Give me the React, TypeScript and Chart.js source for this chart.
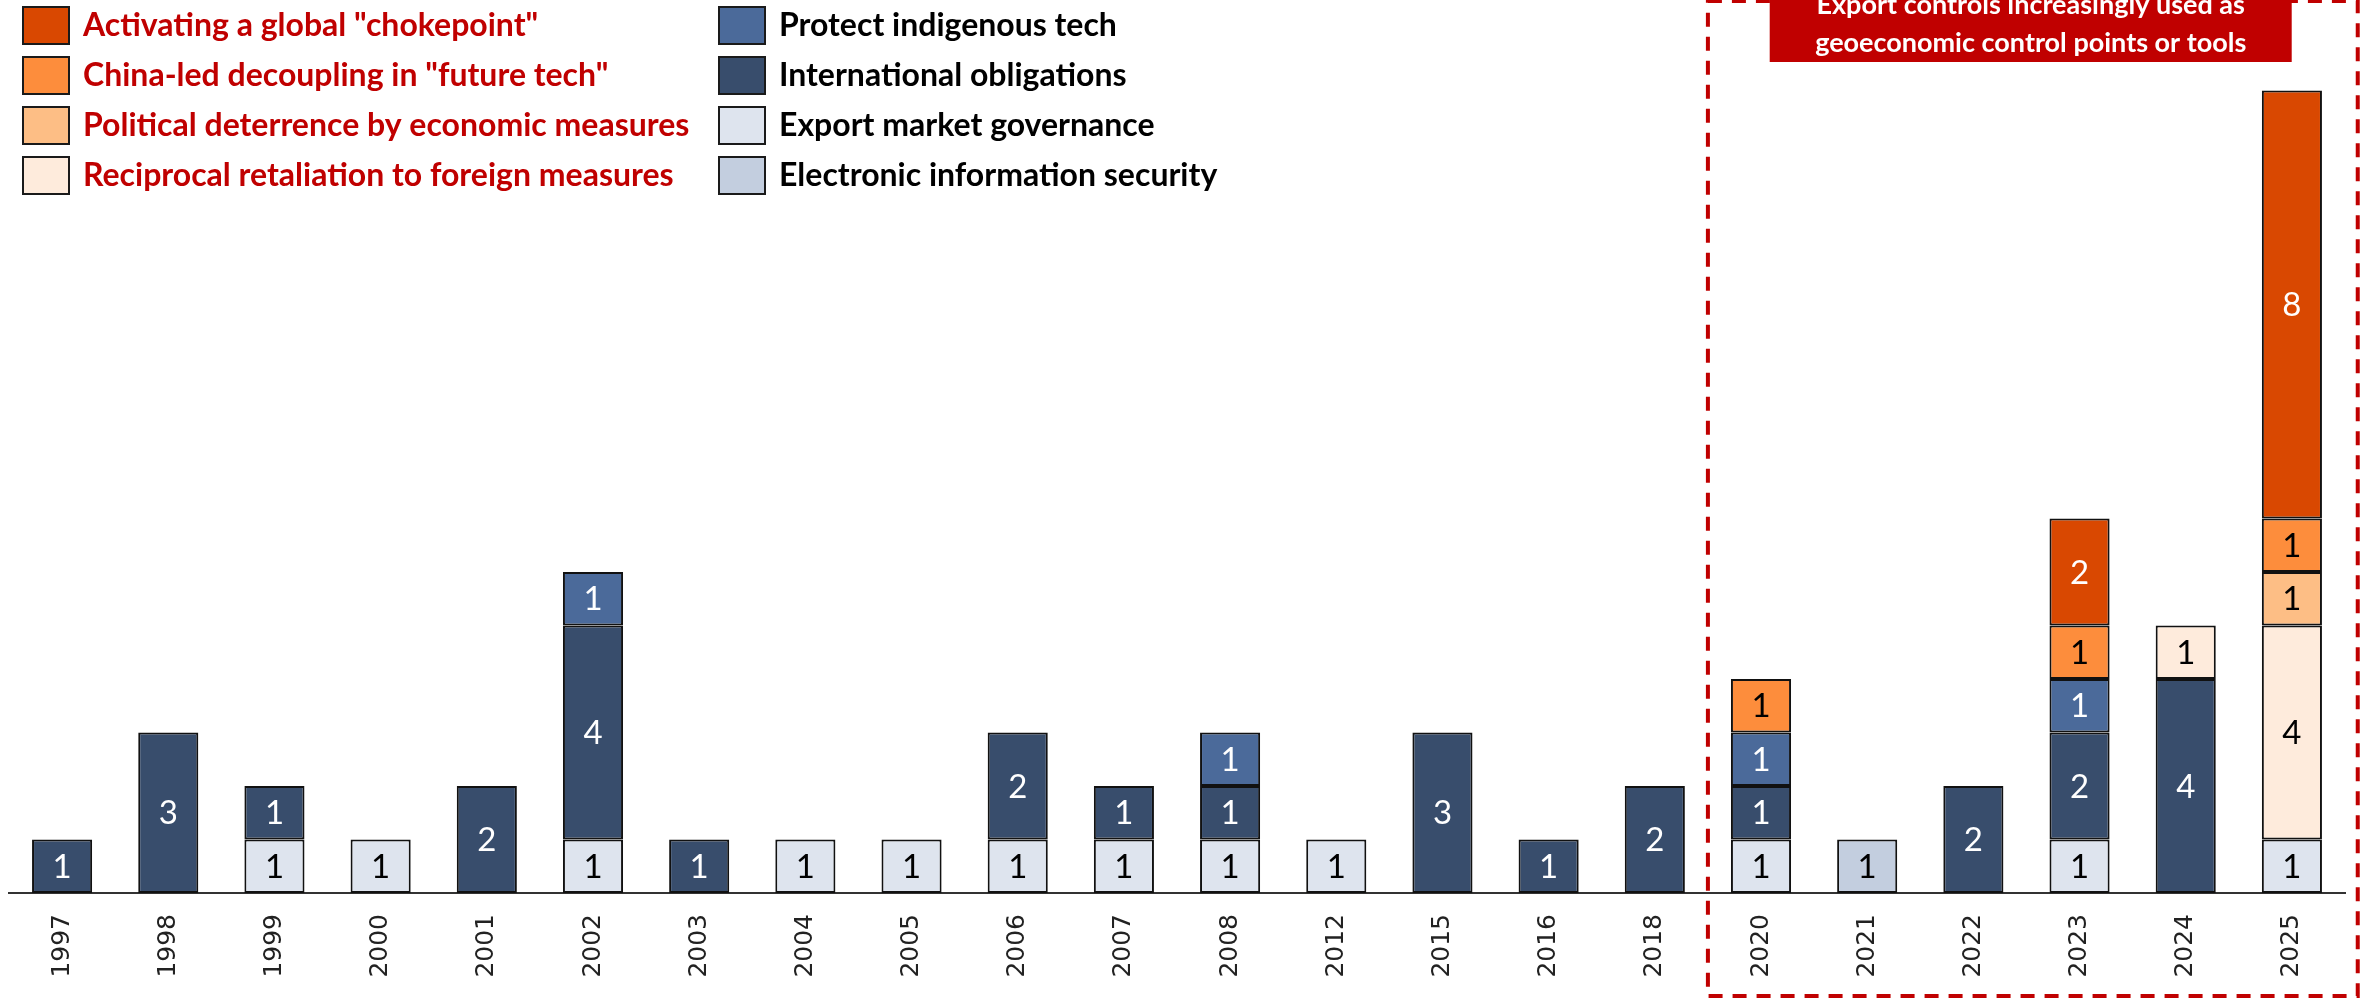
import React, { useEffect, useRef } from "react";
import { Chart, registerables } from "chart.js";

Chart.register(...registerables);

const years = ["1997","1998","1999","2000","2001","2002","2003","2004","2005","2006","2007","2008","2012","2015","2016","2018","2020","2021","2022","2023","2024","2025"];

const exportMarket = [0,0,1,1,0,1,0,1,1,1,1,1,1,0,0,0,1,0,0,1,0,1];
const electronicInfo = [0,0,0,0,0,0,0,0,0,0,0,0,0,0,0,0,0,1,0,0,0,0];
const intlObligations = [1,3,1,0,2,4,1,0,0,2,1,1,0,3,1,2,1,0,2,2,4,0];
const protectTech = [0,0,0,0,0,1,0,0,0,0,0,1,0,0,0,0,1,0,0,1,0,0];
const reciprocal = [0,0,0,0,0,0,0,0,0,0,0,0,0,0,0,0,0,0,0,0,1,4];
const political = [0,0,0,0,0,0,0,0,0,0,0,0,0,0,0,0,0,0,0,0,0,1];
const chinaLed = [0,0,0,0,0,0,0,0,0,0,0,0,0,0,0,0,1,0,0,1,0,1];
const chokepoint = [0,0,0,0,0,0,0,0,0,0,0,0,0,0,0,0,0,0,0,2,0,8];

const seriesNames = [
  "Export market governance",
  "Electronic information security",
  "International obligations",
  "Protect indigenous tech",
  "Reciprocal retaliation to foreign measures",
  "Political deterrence by economic measures",
  "China-led decoupling in \"future tech\"",
  "Activating a global \"chokepoint\"",
];
const seriesValues = [exportMarket, electronicInfo, intlObligations, protectTech, reciprocal, political, chinaLed, chokepoint];
const seriesColors = ["#DEE4EE", "#C3CEDF", "#384D6C", "#4B6A9A", "#FEEBDC", "#FDBE85", "#FD8D3C", "#D94801"];
const labelColors = ["#000", "#000", "#fff", "#fff", "#000", "#000", "#000", "#fff"];

const legendLeft = [7, 6, 5, 4];
const legendRight = [3, 2, 0, 1];

const boxTitle = ["Export controls increasingly used as", "geoeconomic control points or tools"];

const W = 2362;
const H = 998;

const overlayPlugin = {
  id: "overlay",
  afterDatasetsDraw(chart: any) {
    const ctx = chart.ctx;
    ctx.save();
    ctx.font = "33px Lato, 'Open Sans', sans-serif";
    ctx.textAlign = "center";
    ctx.textBaseline = "middle";
    chart.data.datasets.forEach((ds: any, di: number) => {
      const meta = chart.getDatasetMeta(di);
      meta.data.forEach((bar: any, i: number) => {
        const v = ds.data[i];
        if (!v) return;
        const { x, y, base } = bar.getProps(["x", "y", "base"], true);
        ctx.fillStyle = labelColors[di];
        ctx.fillText(String(v), x, (y + base) / 2 + 1);
      });
    });
    ctx.restore();
  },
  afterDraw(chart: any) {
    const ctx = chart.ctx;
    const xs = chart.scales.x;
    ctx.save();
    // legend
    const drawCol = (items: number[], boxX: number, textX: number, red: boolean) => {
      items.forEach((si, r) => {
        const top = 7 + r * 50;
        ctx.fillStyle = seriesColors[si];
        ctx.fillRect(boxX, top, 46, 37);
        ctx.lineWidth = 2;
        ctx.strokeStyle = "#1a1a1a";
        ctx.strokeRect(boxX, top, 46, 37);
        ctx.fillStyle = red ? "#C00000" : "#000";
        ctx.font = "bold 32px Lato, sans-serif";
        ctx.textAlign = "left";
        ctx.textBaseline = "middle";
        ctx.fillText(seriesNames[si], textX, top + 19);
      });
    };
    drawCol(legendLeft, 23, 83, true);
    drawCol(legendRight, 719, 779, false);

    // dashed box
    const left = xs.getPixelForValue(15.5);
    const right = xs.getPixelForValue(21.62);
    ctx.strokeStyle = "#C00000";
    ctx.lineWidth = 4;
    ctx.setLineDash([14, 10]);
    ctx.strokeRect(left, 1, right - left, H - 3);
    ctx.setLineDash([]);

    // title box
    const cx = xs.getPixelForValue(18.54);
    const bw = 522;
    ctx.fillStyle = "#C00000";
    ctx.fillRect(cx - bw / 2, 0, bw, 62);
    ctx.fillStyle = "#fff";
    ctx.font = "bold 27px Lato, sans-serif";
    ctx.textAlign = "center";
    ctx.textBaseline = "alphabetic";
    ctx.fillText(boxTitle[0], cx, 14);
    ctx.fillText(boxTitle[1], cx, 52);
    ctx.restore();
  },
};

export default function App() {
  const ref = useRef<HTMLCanvasElement>(null);
  useEffect(() => {
    document.body.style.margin = "0";
    const chart = new Chart(ref.current as HTMLCanvasElement, {
      type: "bar",
      data: {
        labels: years,
        datasets: seriesValues.map((vals, i) => ({
          label: seriesNames[i],
          data: vals.map((v) => (v === 0 ? null : v)),
          backgroundColor: seriesColors[i],
          borderColor: "#111",
          borderWidth: 2,
          borderSkipped: false,
          barPercentage: 0.566,
          categoryPercentage: 1,
        })),
      },
      options: {
        responsive: false,
        animation: false,
        layout: { padding: { left: 9, right: 17, top: 37, bottom: 0 } },
        plugins: { legend: { display: false }, tooltip: { enabled: false } },
        scales: {
          x: {
            stacked: true,
            grid: { display: false },
            border: { display: true, color: "#333", width: 2 },
            ticks: {
              minRotation: 90,
              maxRotation: 90,
              padding: 13,
              color: "#222",
              font: { family: "'DejaVu Sans', sans-serif", size: 25 },
            },
            afterFit: (scale: any) => {
              scale.height = 105;
            },
          },
          y: {
            stacked: true,
            display: false,
            min: 0,
            max: 16,
          },
        },
      },
      plugins: [overlayPlugin],
    });
    return () => chart.destroy();
  }, []);
  return (
    <div style={{ width: W, height: H }}>
      <canvas ref={ref} width={W} height={H} style={{ display: "block" }} />
    </div>
  );
}
